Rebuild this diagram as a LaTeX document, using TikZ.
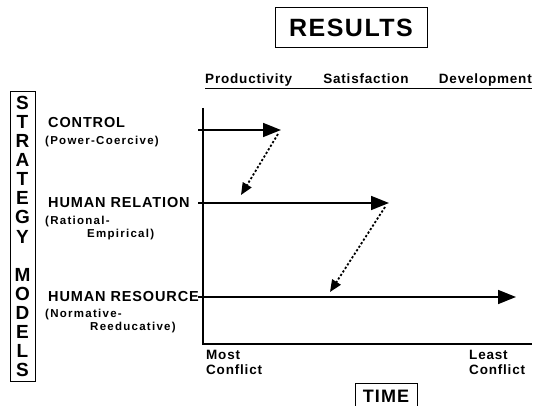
\documentclass[tikz,border=0pt]{standalone}
\usepackage{fontspec}
\setmainfont{Liberation Sans}
\newfontfamily\spaced[LetterSpace=6]{Liberation Sans}
\newfontfamily\wider[LetterSpace=11]{Liberation Sans}
\usetikzlibrary{arrows.meta}
\tikzset{
    model/.style={anchor=west,font=\spaced\bfseries\fontsize{14.5}{14.5}\selectfont,inner sep=0pt},
    sub/.style={anchor=west,font=\wider\bfseries\fontsize{11.5}{11.5}\selectfont,inner sep=0pt},
    head/.style={font=\spaced\bfseries\fontsize{13.5}{13.5}\selectfont,inner sep=0pt},
    run/.style={line width=1.6pt,-{Triangle[length=18pt,width=14pt]}},
    modelshift/.style={line width=1.8pt,dash pattern=on 2.2pt off 2pt,-{Triangle[length=12pt,width=10pt]}},
}
\begin{document}
\begin{tikzpicture}[x=1pt,y=1pt]
        \useasboundingbox (0,0) rectangle (535,406);
        % title boxes
        \node[draw,line width=1pt,minimum width=152pt,minimum height=40pt,font=\spaced\bfseries\fontsize{25}{25}\selectfont] (results) at (351,378) {RESULTS};
        \node[draw,line width=1pt,minimum width=62pt,minimum height=30pt,anchor=north,font=\spaced\bfseries\fontsize{18}{18}\selectfont,text depth=6pt] (time) at (386,23) {\raisebox{-2pt}{TIME}};
        % column heads
        \node[head,anchor=base west] (prod) at (205,322) {Productivity};
        \node[head,anchor=base] (satis) at (366,322) {Satisfaction};
        \node[head,anchor=base east] (devel) at (532,322) {Development};
        \draw[line width=0.9pt] (205,318) -- (532,318);
        % axes
        \coordinate (o) at (203,62);
        \coordinate (top) at (203,298);
        \coordinate (xend) at (532,62);
        \draw[line width=1.2pt] (top) -- (o) -- (xend);
        % vertical label
        \draw[line width=1pt] (10,24) rectangle (35,314);
        \foreach \ch [count=\k from 0] in {S,T,R,A,T,E,G,Y,,M,O,D,E,L,S}
        {%
            \node[font=\bfseries\fontsize{19}{19}\selectfont,inner sep=0pt] (sm\k) at (22.5,{303-19.07*\k}) {\ch};
        }%
        % models
        \foreach \nm/\y/\xe in {ctrl/276/281,rel/203/389,res/109/516}
        {%
            \coordinate (\nm-s) at (203,\y);
            \coordinate (\nm-e) at (\xe,\y);
            \draw[line width=1.2pt] (198,\y) -- (\nm-s);
            \draw[run] (\nm-s) -- (\nm-e);
        }%
        \node[model] (ctrl) at (48,283) {CONTROL};
        \node[sub] (ctrlsub) at (45,264) {(Power-Coercive)};
        \node[model] (rel) at (48,203) {HUMAN RELATION};
        \node[sub] (relsub1) at (45,184) {(Rational-};
        \node[sub] (relsub2) at (87,171) {Empirical)};
        \node[model] (res) at (48,109) {HUMAN RESOURCE};
        \node[sub] (ressub1) at (45,91) {(Normative-};
        \node[sub] (ressub2) at (90,78) {Reeducative)};
        % shifts between models
        \coordinate (sh1a) at (278,272);
        \coordinate (sh1b) at (241,211);
        \coordinate (sh2a) at (385,199);
        \coordinate (sh2b) at (330,114);
        \draw[modelshift] (sh1a) -- (sh1b);
        \draw[modelshift] (sh2a) -- (sh2b);
        % conflict ends
        \node[head,anchor=base west] (most) at (206,46) {Most};
        \node[head,anchor=base west] (mostc) at (206,31) {Conflict};
        \node[head,anchor=base west] (least) at (469,46) {Least};
        \node[head,anchor=base west] (leastc) at (469,31) {Conflict};
        %
    \end{tikzpicture}
\end{document}
